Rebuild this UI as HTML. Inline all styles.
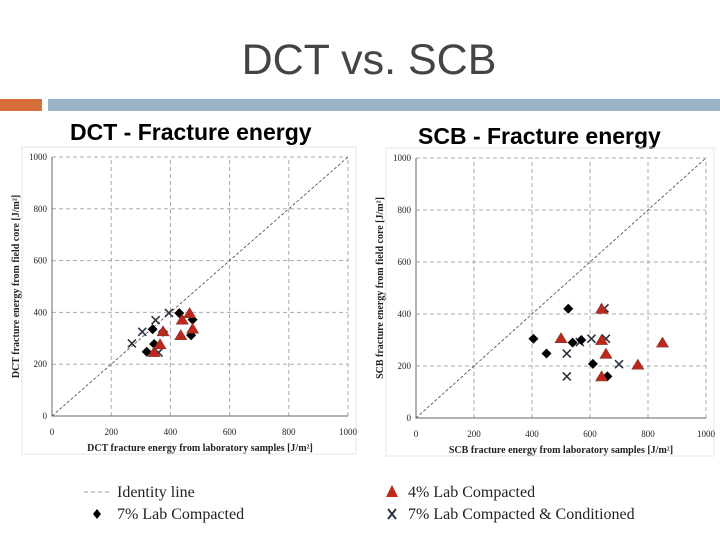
<!DOCTYPE html>
<html><head><meta charset="utf-8"><style>
body{margin:0;width:720px;height:540px;background:#fff;overflow:hidden;font-family:"Liberation Sans",sans-serif}
svg{position:absolute;left:0;top:0}
</style></head><body>
<svg id="s" width="720" height="540" xmlns="http://www.w3.org/2000/svg">
<text x="369" y="74" text-anchor="middle" font-size="43" fill="#444">DCT vs. SCB</text>
<rect x="0" y="99" width="42" height="12" fill="#d86f3a"/>
<rect x="48" y="99" width="672" height="12" fill="#9bb4c8"/>
<g id="legend" font-family="Liberation Serif,serif" font-size="16" fill="#222">
<line x1="84" y1="492" x2="110" y2="492" stroke="#999" stroke-dasharray="4,3"/>
<text x="117" y="497">Identity line</text>
<path d="M97 509 L101 514 L97 519 L93 514Z" fill="#000"/>
<text x="117" y="519">7% Lab Compacted</text>
<path d="M392 485 L398 497 L386 497Z" fill="#c0261b"/>
<text x="408" y="497">4% Lab Compacted</text>
<path d="M388 509 L396 519 M396 509 L388 519" stroke="#2a3440" stroke-width="2"/>
<text x="408" y="519">7% Lab Compacted &amp; Conditioned</text>
</g>
</svg>
<script>
const ticks=[0,200,400,600,800,1000];
const dctDiamondX=[320,345,340,375,430,475,470];
const dctDiamondY=[248,278,335,325,397,372,312];
const dctTriX=[345,365,440,465,435,475,375];
const dctTriY=[245,275,370,395,310,335,325];
const dctCrossX=[270,305,350,395,360];
const dctCrossY=[280,325,370,398,245];
const scbDiamondX=[405,450,525,540,570,610,660];
const scbDiamondY=[305,248,420,290,300,208,160];
const scbTriX=[500,640,640,655,765,850,640];
const scbTriY=[305,418,298,245,203,288,158];
const scbCrossX=[520,520,565,605,650,655,700];
const scbCrossY=[248,160,292,305,422,305,207];
const NS='http://www.w3.org/2000/svg';
const svg=document.getElementById('s');
function mk(p,tag,at){const e=document.createElementNS(NS,tag);for(const k in at)e.setAttribute(k,at[k]);p.appendChild(e);return e;}
function chart(cfg){
  const g=mk(svg,'g',{});
  
  
  const X=v=>cfg.x0+(cfg.x1-cfg.x0)*v/1000, Y=v=>cfg.y0-(cfg.y0-cfg.y1)*v/1000;
  const t=mk(g,'text',{x:cfg.tx,y:cfg.ty,'font-size':23,'font-weight':'bold',fill:'#000'});t.textContent=cfg.title;
  
  
  mk(g,'rect',{x:cfg.x0-30,y:cfg.y1-10,width:cfg.x1-cfg.x0+38,height:cfg.y0-cfg.y1+48,fill:'none',stroke:'#e4e4e4'});
  ticks.forEach(v=>{
    if(v>0){
      const a=mk(g,'line',{x1:X(v),x2:X(v),y1:Y(0),y2:Y(1000),stroke:'#aaa','stroke-dasharray':'4,3'});
      
      
      const b=mk(g,'line',{x1:X(0),x2:X(1000),y1:Y(v),y2:Y(v),stroke:'#aaa','stroke-dasharray':'4,3'});
      
      
    }
    const xl=mk(g,'text',{x:X(v),y:Y(0)+19,'font-size':9,'text-anchor':'middle','font-family':'Liberation Serif,serif',fill:'#222'});xl.textContent=v;
    
    
    const yl=mk(g,'text',{x:X(0)-5,y:Y(v)+3,'font-size':9,'text-anchor':'end','font-family':'Liberation Serif,serif',fill:'#222'});yl.textContent=v;
    
    
  });
  mk(g,'path',{d:`M${X(0)} ${Y(1000)}V${Y(0)}H${X(1000)}`,fill:'none',stroke:'#666'});
  const id=mk(g,'line',{x1:X(0),y1:Y(0),x2:X(1000),y2:Y(1000),stroke:'#444','stroke-dasharray':'3,2','stroke-width':0.8});
  
  
  const xt=mk(g,'text',{x:(X(0)+X(1000))/2,y:Y(0)+35,'font-size':10,'font-weight':'bold','text-anchor':'middle','font-family':'Liberation Serif,serif',fill:'#222'});xt.textContent=cfg.xt;
  
  
  const cy=(Y(0)+Y(1000))/2;
  const yt=mk(g,'text',{x:X(0)-33,y:cy,'font-size':10,'font-weight':'bold','text-anchor':'middle','font-family':'Liberation Serif,serif',fill:'#222',transform:`rotate(-90 ${X(0)-33} ${cy})`});yt.textContent=cfg.yt;
  
  
  cfg.cx.forEach((v,i)=>{const x=X(v),y=Y(cfg.cy[i]);
    const c=mk(g,'path',{d:`M${x-4} ${y-4}L${x+4} ${y+4}M${x+4} ${y-4}L${x-4} ${y+4}`,stroke:'#2a3440','stroke-width':1.6});
    
    });
  cfg.dx.forEach((v,i)=>{const x=X(v),y=Y(cfg.dy[i]);
    const d=mk(g,'path',{d:`M${x} ${y-5}L${x+5} ${y}L${x} ${y+5}L${x-5} ${y}Z`,fill:'#000'});
    
    });
  cfg.trx.forEach((v,i)=>{const x=X(v),y=Y(cfg.try_[i]);
    const tr=mk(g,'path',{d:`M${x} ${y-6}L${x+6} ${y+4}L${x-6} ${y+4}Z`,fill:'#c0261b',stroke:'#7a3a30','stroke-width':0.6});
    
    });
}
chart({name:'dct-chart',title:'DCT  -  Fracture energy',tx:70,ty:140,x0:52,x1:348,y0:416,y1:157,
 xt:'DCT fracture energy from laboratory samples [J/m²]',yt:'DCT fracture energy  from field core [J/m²]',
 dx:dctDiamondX,dy:dctDiamondY,trx:dctTriX,try_:dctTriY,cx:dctCrossX,cy:dctCrossY});
chart({name:'scb-chart',title:'SCB  -  Fracture energy',tx:418,ty:144,x0:416,x1:706,y0:418,y1:158,
 xt:'SCB fracture energy from laboratory samples [J/m²]',yt:'SCB fracture energy  from field core [J/m²]',
 dx:scbDiamondX,dy:scbDiamondY,trx:scbTriX,try_:scbTriY,cx:scbCrossX,cy:scbCrossY});
</script>
</body></html>
